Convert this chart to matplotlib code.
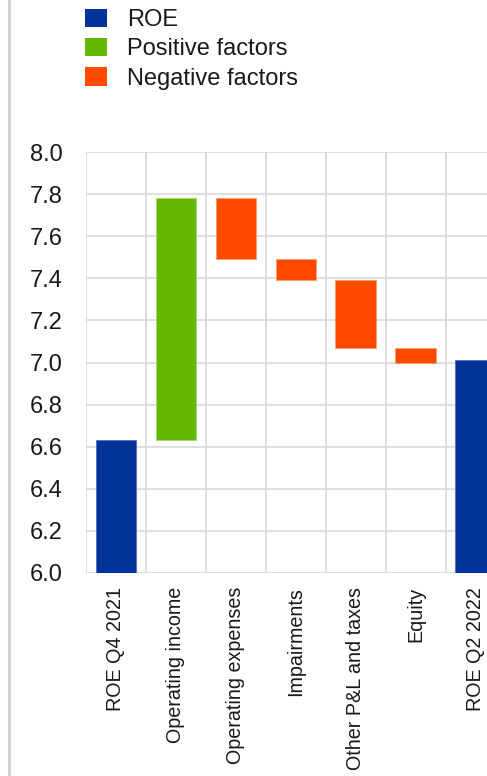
import matplotlib.pyplot as plt
from matplotlib.lines import Line2D
from matplotlib.patches import Patch

# ROE decomposition, percentages
categories = ["ROE Q4 2021", "Operating income", "Operating expenses",
              "Impairments", "Other P&L and taxes", "Equity", "ROE Q2 2022"]
roe_start = 6.63
roe_end = 7.01
factors = [1.15, -0.29, -0.10, -0.32, -0.07]

BLUE = "#003299"
GREEN = "#65b800"
ORANGE = "#ff4b00"

plt.rcParams["font.family"] = ["Liberation Sans", "DejaVu Sans"]
plt.rcParams["font.size"] = 17

fig = plt.figure(figsize=(4.87, 7.76), dpi=100)
ax = fig.add_axes([0.1766, 0.2616, 0.862, 0.5425])

width = 0.68
ax.bar(0, roe_start, width=width, color=BLUE, edgecolor="#5570c0", linewidth=0.6, zorder=3)

level = roe_start
for i, f in enumerate(factors, start=1):
    color = GREEN if f > 0 else ORANGE
    edge = "#a4d870" if f > 0 else "#ff9a70"
    ax.bar(i, f, bottom=level, width=width, color=color, edgecolor=edge,
           linewidth=0.6, zorder=3)
    level += f

ax.bar(len(categories) - 1, roe_end, width=width, color=BLUE, edgecolor="#5570c0",
       linewidth=0.6, zorder=3)

ax.set_ylim(6.0, 8.0)
ax.set_yticks([6.0 + 0.2 * k for k in range(11)])
ax.set_yticklabels([f"{6.0 + 0.2 * k:.1f}" for k in range(11)])
ax.set_xlim(-0.5, len(categories) - 0.5)
ax.set_xticks(range(len(categories)))
ax.set_xticklabels(categories, rotation=90, va="top", ha="center", fontsize=14.2)

# grid: horizontal at ticks, vertical between categories
for y in ax.get_yticks():
    ax.axhline(y, color="#dcdcdc", linewidth=1.3, zorder=1)
for x in range(len(categories) + 1):
    ax.axvline(x - 0.5, color="#dcdcdc", linewidth=1.3, zorder=1)

for s in ax.spines.values():
    s.set_visible(False)
ax.tick_params(axis="both", length=0, colors="#1a1a1a")
ax.tick_params(axis="y", pad=16.5)
ax.tick_params(axis="x", pad=10)

handles = [Patch(facecolor=BLUE, edgecolor="none", label="ROE"),
           Patch(facecolor=GREEN, edgecolor="none", label="Positive factors"),
           Patch(facecolor=ORANGE, edgecolor="none", label="Negative factors")]
leg = fig.legend(handles=handles, loc="upper left", bbox_to_anchor=(0.131, 1.016),
                 frameon=False, handlelength=0.93, handleheight=0.8,
                 handletextpad=0.85, labelspacing=0.3, borderpad=0.4)
for t in leg.get_texts():
    t.set_color("#1a1a1a")

# grey frame line on the left edge
fig.add_artist(Line2D([9 / 487, 9 / 487], [0, 1], transform=fig.transFigure,
                      color="#d4d4d4", linewidth=2.2))

fig.savefig("out.png", dpi=100)
